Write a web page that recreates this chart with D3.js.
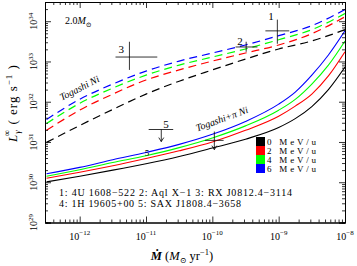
<!DOCTYPE html>
<html>
<head>
<meta charset="utf-8">
<script src="https://cdn.jsdelivr.net/npm/d3@7"></script>
<style>
  body { margin: 0; background: #fff; }
  svg text { font-family: "Liberation Serif", "DejaVu Serif", serif; fill: #000; }
</style>
</head>
<body>
<svg id="chart" width="357" height="266"></svg>
<script>
// accretion rate grid (log10 Msun/yr) used for the curves
const mdotDashed = [-12.5, -12, -11.5, -11, -10.5, -10, -9.5, -9, -8.5, -8];
const mdotSolid = [-12.5, -12, -11.5, -11, -10.5, -10, -9.5, -9, -8.75, -8.5, -8.25, -8];

// log10 L (erg/s), Togashi Ni (dashed)
const togashi0 = [30.99, 31.41, 31.81, 32.19, 32.51, 32.79, 33.06, 33.31, 33.51, 33.79];
const togashi2 = [31.29, 31.79, 32.19, 32.54, 32.79, 33.01, 33.21, 33.41, 33.69, 34.11];
const togashi4 = [31.46, 31.96, 32.34, 32.66, 32.91, 33.11, 33.31, 33.54, 33.79, 34.19];
const togashi6 = [31.56, 32.06, 32.44, 32.76, 33.01, 33.21, 33.41, 33.64, 33.89, 34.29];

// log10 L (erg/s), Togashi+pi Ni (solid)
const pion0 = [30.01, 30.15, 30.30, 30.46, 30.64, 30.85, 31.07, 31.36, 31.58, 31.88, 32.30, 32.86];
const pion2 = [30.10, 30.25, 30.41, 30.59, 30.78, 31.00, 31.29, 31.64, 31.89, 32.19, 32.64, 33.24];
const pion4 = [30.15, 30.31, 30.49, 30.66, 30.86, 31.10, 31.40, 31.79, 32.06, 32.44, 32.91, 33.51];
const pion6 = [30.21, 30.37, 30.56, 30.74, 30.94, 31.19, 31.51, 31.94, 32.24, 32.66, 33.16, 33.76];

const heatLabels = ["0 MeV/u", "2 MeV/u", "4 MeV/u", "6 MeV/u"];
const heatColors = ["#000000", "#ff0000", "#00ff00", "#0000ff"];

// observed sources: log10 Mdot range and log10 L range
const sources = [
  { id: "1", m: -9.02, mLo: -9.20, mHi: -8.84, l: 33.76, lLo: 33.44, lHi: 34.04, limit: false },
  { id: "2", m: -9.49, mLo: -9.65, mHi: -9.32, l: 33.36, lLo: 33.24, lHi: 33.49, limit: false },
  { id: "3", m: -11.25, mLo: -11.46, mHi: -10.83, l: 33.11, lLo: 32.79, lHi: 33.49, limit: false },
  { id: "5", m: -10.77, mLo: -10.96, mHi: -10.59, l: 31.31, lLo: 31.01, lHi: 31.31, limit: true },
  { id: "", m: -9.97, mLo: -10.11, mHi: -9.83, l: 31.04, lLo: 30.81, lHi: 31.26, limit: true }
];
// label offsets from the cross centre, px
const labelShift = [[-9, -11], [-9, -2], [-11, -4], [2, -2], [0, 0]];
// small source tag sitting on the curves
const curveTag = { id: "5", m: -11.02, l: 30.66 };

const xMajor = [-12, -11, -10, -9, -8];
const yMajor = [29, 30, 31, 32, 33, 34];

const legendNote1 = "1: 4U 1608\u2212522 2: Aql X\u22121 3: RX J0812.4\u22123114";
const legendNote2 = "4: 1H 19605+00 5: SAX J1808.4\u22123658";

const margin = { left: 45, right: 12, top: 2, bottom: 43.5 };
const W = 357, H = 266;
const svg = d3.select("#chart");

const x = d3.scaleLog().domain([3e-13, 1e-8]).range([margin.left, W - margin.right]);
const y = d3.scaleLog().domain([1e29, 3e34]).range([H - margin.bottom, margin.top]);
const p10 = v => Math.pow(10, v);

function minors(domain) {
  const out = [];
  const lo = Math.floor(Math.log10(domain[0])), hi = Math.ceil(Math.log10(domain[1]));
  for (let e = lo; e < hi; e++)
    for (let k = 2; k <= 9; k++) {
      const v = k * Math.pow(10, e);
      if (v > domain[0] && v < domain[1]) out.push(v);
    }
  return out;
}

// curves
const line = d3.line().x(d => x(p10(d[0]))).y(d => y(p10(d[1]))).curve(d3.curveMonotoneX);
const plot = svg.append("g");
svg.append("clipPath").attr("id", "clip").append("rect")
  .attr("x", margin.left).attr("y", margin.top)
  .attr("width", W - margin.left - margin.right).attr("height", H - margin.top - margin.bottom);
plot.attr("clip-path", "url(#clip)");

[togashi0, togashi2, togashi4, togashi6].forEach((s, i) => {
  plot.append("path")
    .datum(d3.zip(mdotDashed, s))
    .attr("fill", "none").attr("stroke", heatColors[i]).attr("stroke-width", 1.2)
    .attr("stroke-dasharray", "8,5")
    .attr("d", line);
});
[pion0, pion2, pion4, pion6].forEach((s, i) => {
  plot.append("path")
    .datum(d3.zip(mdotSolid, s))
    .attr("fill", "none").attr("stroke", heatColors[i]).attr("stroke-width", 1.1)
    .attr("d", line);
});

// sources
const src = svg.append("g").attr("stroke", "#000").attr("stroke-width", 0.8);
sources.forEach((s, i) => {
  const cx = x(p10(s.m)), cy = y(p10(s.l));
  src.append("line").attr("x1", x(p10(s.mLo))).attr("x2", x(p10(s.mHi))).attr("y1", cy).attr("y2", cy);
  src.append("line").attr("x1", cx).attr("x2", cx).attr("y1", y(p10(s.lLo))).attr("y2", y(p10(s.lHi)));
  if (s.limit) {
    const ay = y(p10(s.lLo));
    src.append("path").attr("fill", "none")
      .attr("d", `M${cx - 2.5},${ay - 4}L${cx},${ay}L${cx + 2.5},${ay - 4}`);
  }
  if (s.id) {
    svg.append("text").attr("x", cx + labelShift[i][0]).attr("y", cy + labelShift[i][1])
      .attr("font-size", 11).attr("font-family", "DejaVu Sans").attr("fill", "#333").text(s.id);
  }
});
svg.append("text").attr("x", x(p10(curveTag.m))).attr("y", y(p10(curveTag.l)))
  .attr("font-size", 9).attr("font-family", "DejaVu Sans").attr("fill", "#333").text(curveTag.id);

// axes on four sides, ticks inward
const xMaj = xMajor.map(p10), yMaj = yMajor.map(p10);
const xMin = minors(x.domain()), yMin = minors(y.domain());
const axes = svg.append("g");
function addAxis(gen, scale, vals, size, transform) {
  axes.append("g").attr("transform", transform)
    .call(gen(scale).tickValues(vals).tickSize(size).tickFormat(""))
    .call(g => g.selectAll("line").attr("stroke-width", 0.8))
    .call(g => g.select(".domain").attr("stroke-width", 1));
}
const bx = H - margin.bottom, rx = W - margin.right;
addAxis(d3.axisBottom, x, xMaj, -6, `translate(0,${bx})`);
addAxis(d3.axisBottom, x, xMin, -3, `translate(0,${bx})`);
addAxis(d3.axisTop, x, xMaj, -6, `translate(0,${margin.top})`);
addAxis(d3.axisTop, x, xMin, -3, `translate(0,${margin.top})`);
addAxis(d3.axisLeft, y, yMaj, -6, `translate(${margin.left},0)`);
addAxis(d3.axisLeft, y, yMin, -3, `translate(${margin.left},0)`);
addAxis(d3.axisRight, y, yMaj, -6, `translate(${rx},0)`);
addAxis(d3.axisRight, y, yMin, -3, `translate(${rx},0)`);

// tick labels
xMajor.forEach(e => {
  const t = svg.append("text").attr("x", x(p10(e))).attr("y", bx + 17)
    .attr("text-anchor", "middle").attr("font-size", 10);
  t.append("tspan").text("10");
  t.append("tspan").attr("dy", -4.5).attr("font-size", 7).text("\u2212" + Math.abs(e));
});
yMajor.forEach(e => {
  const t = svg.append("text")
    .attr("transform", `translate(${margin.left - 8},${y(p10(e))}) rotate(-90)`)
    .attr("text-anchor", "middle").attr("font-size", 10);
  t.append("tspan").text("10");
  t.append("tspan").attr("dy", -4.5).attr("font-size", 7).text(e);
});

// axis titles
const xt = svg.append("text").attr("x", 182).attr("y", 260).attr("text-anchor", "middle").attr("font-size", 12.5);
xt.append("tspan").attr("font-style", "italic").attr("font-weight", "bold").text("\u1E40");
xt.append("tspan").text(" (");
xt.append("tspan").attr("font-style", "italic").text("M");
xt.append("tspan").attr("dy", 3).attr("font-size", 8).text("\u2299");
xt.append("tspan").attr("dy", -3).text(" yr");
xt.append("tspan").attr("dy", -5).attr("font-size", 8.5).text("\u22121");
xt.append("tspan").attr("dy", 5).text(")");

const yt = svg.append("text").attr("transform", "translate(17,103) rotate(-90)")
  .attr("text-anchor", "middle").attr("font-size", 13).attr("letter-spacing", 1);
yt.append("tspan").attr("font-style", "italic").text("L");
yt.append("tspan").attr("dy", 3).attr("font-size", 9).attr("font-style", "italic").text("\u03B3");
yt.append("tspan").attr("dy", -10).attr("dx", -7).attr("font-size", 9).text("\u221E");
yt.append("tspan").attr("dy", 7).text("  ( erg s");
yt.append("tspan").attr("dy", -5).attr("font-size", 9).text("\u22121");
yt.append("tspan").attr("dy", 5).text(" )");

// annotations
const mass = svg.append("text").attr("x", 65).attr("y", 24).attr("font-size", 10);
mass.append("tspan").text("2.0");
mass.append("tspan").attr("font-style", "italic").text("M");
mass.append("tspan").attr("dy", 3).attr("font-size", 7).text("\u2299");

svg.append("text").attr("transform", "translate(81,91) rotate(-27)")
  .attr("text-anchor", "middle").attr("font-size", 10).attr("font-style", "italic")
  .text("Togashi Ni");
svg.append("text").attr("transform", "translate(223,122) rotate(-20)")
  .attr("text-anchor", "middle").attr("font-size", 10).attr("font-style", "italic")
  .text("Togashi+\u03C0 Ni");

svg.append("text").attr("x", 59).attr("y", 196).attr("font-size", 10)
  .attr("textLength", 233).text(legendNote1);
svg.append("text").attr("x", 59).attr("y", 207).attr("font-size", 10)
  .attr("textLength", 182).text(legendNote2);

// heating legend
const leg = svg.append("g").attr("transform", "translate(256,137)");
heatLabels.forEach((lab, i) => {
  leg.append("rect").attr("x", 0).attr("y", i * 9).attr("width", 9).attr("height", 9)
    .attr("fill", heatColors[i]);
  leg.append("text").attr("x", 11).attr("y", i * 9 + 7.5).attr("font-size", 9)
    .attr("font-family", "DejaVu Serif").attr("textLength", 49).text(lab);
});
</script>
</body>
</html>
